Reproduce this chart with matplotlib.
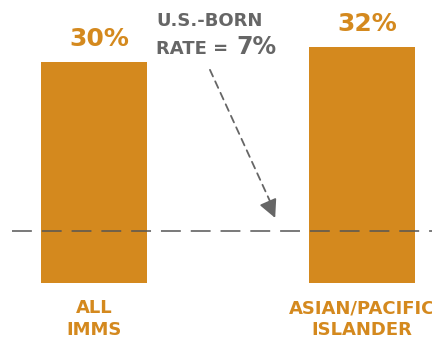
import matplotlib
matplotlib.use('Agg')
import matplotlib.pyplot as plt

categories = ['ALL\nIMMS', 'ASIAN/PACIFIC\nISLANDER']
rates = [30, 32]
us_born_rate = 7
value_labels = ['30%', '32%']

orange = '#D4891E'
gray = '#666666'
plt.rcParams['font.family'] = ['DejaVu Sans']

fig = plt.figure(figsize=(4.32, 3.39), dpi=100)
ax = fig.add_axes([0, 0, 1, 1])
x = list(range(len(categories)))
ax.bar(x, rates, width=0.396, color=orange)
ax.set_xlim(-0.351, 1.261)
ax.set_ylim(-7.6, 38.4)
ax.axis('off')

# reference line for U.S.-born
ax.axhline(us_born_rate, xmin=0.028, xmax=1, color='#555555', lw=1.1, dashes=(13, 6.5))

for xi, r, lab in zip(x, rates, value_labels):
    ax.text(xi + 0.02, r + 1.5, lab, ha='center', va='bottom', color=orange,
            fontsize=18, fontweight='bold')
for xi, cat in zip(x, categories):
    ax.text(xi, -2.2, cat, ha='center', va='top', color=orange,
            fontsize=13, fontweight='bold', linespacing=1.25)

ax.text(0.362, 0.912, 'U.S.-BORN', transform=ax.transAxes, color=gray,
        fontsize=13, fontweight='bold', va='bottom')
ax.text(0.362, 0.828, 'RATE =', transform=ax.transAxes, color=gray,
        fontsize=13, fontweight='bold', va='bottom')
ax.text(0.548, 0.825, '7%', transform=ax.transAxes, color=gray,
        fontsize=17, fontweight='bold', va='bottom')

# dashed arrow shaft + solid head
start = (0.486, 0.794)
tip = (0.637, 0.357)
near = (tip[0] - 0.03 * (tip[0] - start[0]) / 0.151 * 0.151 / 0.46 * 0.46,
        tip[1] + 0.03 * (start[1] - tip[1]) / 0.151 * 0.151 / 0.46)
ax.annotate('', xy=near, xytext=start,
            xycoords='axes fraction', textcoords='axes fraction',
            arrowprops=dict(arrowstyle='-', linestyle=(0, (4, 3)),
                            color=gray, lw=1.3, shrinkA=0, shrinkB=0))
ax.annotate('', xy=tip, xytext=(tip[0] - 0.012, tip[1] + 0.035),
            xycoords='axes fraction', textcoords='axes fraction',
            arrowprops=dict(arrowstyle='-|>,head_length=1.1,head_width=0.55',
                            color=gray, lw=1.3, shrinkA=0, shrinkB=0))

fig.savefig('out.png', dpi=100)
